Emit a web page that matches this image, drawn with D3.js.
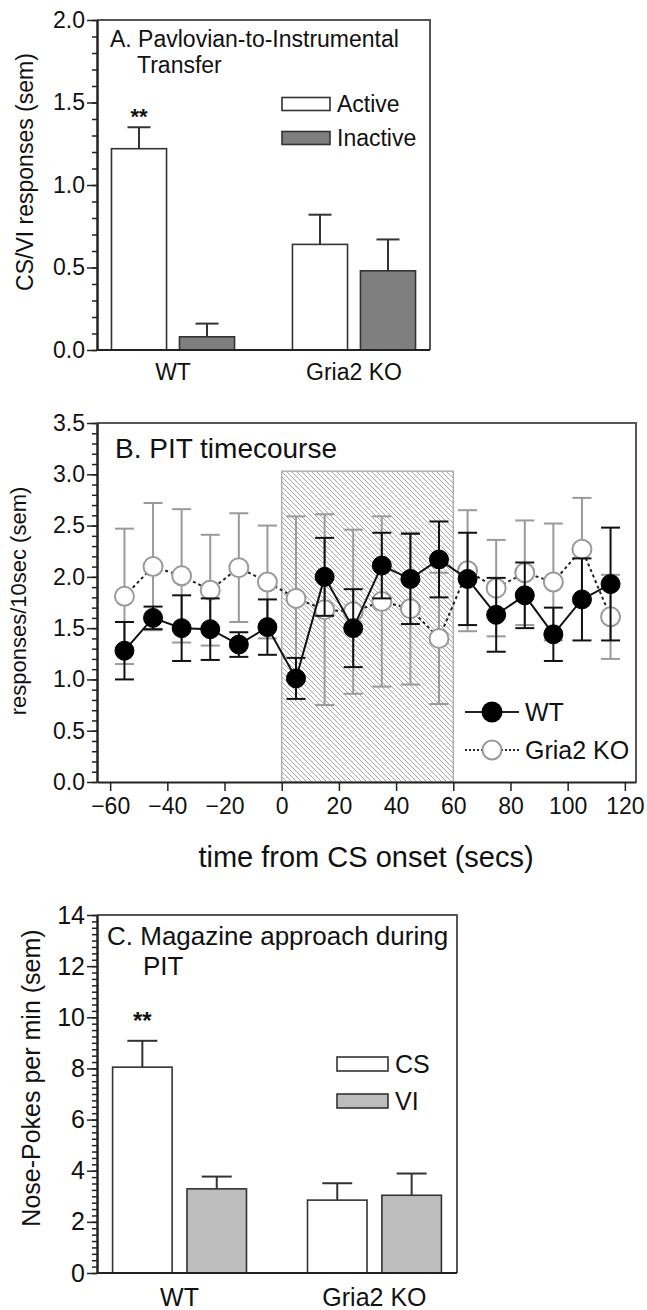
<!DOCTYPE html>
<html>
<head>
<meta charset="utf-8">
<script src="https://cdn.jsdelivr.net/npm/d3@7"></script>
<style>
  body { margin: 0; background: #fff; }
  text { font-family: "Liberation Sans", Arial, sans-serif; fill: #111; }
</style>
</head>
<body>
<svg id="fig" width="647" height="1310"></svg>
<script>
// ---- data ----
const groups = ["WT", "Gria2 KO"];

// panel A : Pavlovian-to-instrumental transfer
const ptSeries = ["Active", "Inactive"];
const ptActive = [1.22, 0.64];
const ptActiveSem = [0.13, 0.18];
const ptInactive = [0.08, 0.48];
const ptInactiveSem = [0.08, 0.19];
const ptTicks = [0, 0.5, 1.0, 1.5, 2.0];

// panel B : PIT timecourse (10 sec bins)
const times = [-55, -45, -35, -25, -15, -5, 5, 15, 25, 35, 45, 55, 65, 75, 85, 95, 105, 115];
const wtMean = [1.28, 1.60, 1.50, 1.49, 1.34, 1.51, 1.01, 2.00, 1.50, 2.11, 1.98, 2.17, 1.98, 1.63, 1.82, 1.44, 1.78, 1.93];
const wtSem  = [0.28, 0.11, 0.32, 0.30, 0.12, 0.27, 0.20, 0.38, 0.38, 0.32, 0.44, 0.37, 0.45, 0.36, 0.32, 0.26, 0.40, 0.55];
const koMean = [1.81, 2.10, 2.01, 1.87, 2.09, 1.95, 1.79, 1.68, 1.66, 1.76, 1.69, 1.40, 2.06, 1.89, 2.04, 1.95, 2.27, 1.61];
const koSem  = [0.66, 0.62, 0.65, 0.54, 0.53, 0.55, 0.80, 0.93, 0.80, 0.83, 0.74, 0.64, 0.59, 0.47, 0.51, 0.57, 0.50, 0.41];
const csWindow = [0, 60];
const csWindowTop = 3.03;
const tcXTicks = [-60, -40, -20, 0, 20, 40, 60, 80, 100, 120];
const tcYTicks = [0, 0.5, 1.0, 1.5, 2.0, 2.5, 3.0, 3.5];

// panel C : magazine approach during PIT
const magSeries = ["CS", "VI"];
const magCS = [8.05, 2.85];
const magCSSem = [1.03, 0.66];
const magVI = [3.29, 3.04];
const magVISem = [0.48, 0.85];
const magTicks = [0, 2, 4, 6, 8, 10, 12, 14];

const svg = d3.select("#fig");
const FONT = '"Liberation Sans", Arial, sans-serif';

function minorTicks(max, step) {
  return d3.range(0, max + step / 2, step);
}

function styleAxis(g) {
  g.selectAll(".domain").attr("stroke", "#222").attr("stroke-width", 2);
  g.selectAll(".tick line").attr("stroke", "#222").attr("stroke-width", 1.5);
}

// generic grouped bar panel (A and C)
function barPanel(o) {
  const x0 = d3.scaleBand().domain(groups).range([o.left, o.right])
    .paddingInner(o.padIn).paddingOuter(o.padOut);
  const x1 = d3.scaleBand().domain(o.series).range([0, x0.bandwidth()]).paddingInner(o.barGap);
  const y = d3.scaleLinear().domain([0, o.yMax]).range([o.bottom, o.top]);

  const g = svg.append("g");

  // frame top / right
  g.append("path")
    .attr("d", `M${o.left},${o.top}H${o.right}V${o.bottom}`)
    .attr("fill", "none").attr("stroke", "#555").attr("stroke-width", 2);

  const rows = [];
  groups.forEach((grp, i) => {
    o.series.forEach((s, j) => {
      rows.push({grp: grp, s: s, v: o.values[j][i], e: o.sems[j][i], fill: o.fills[j]});
    });
  });

  // error bars (only upward)
  const eb = g.selectAll(".eb").data(rows).enter().append("g");
  eb.append("line")
    .attr("x1", d => x0(d.grp) + x1(d.s) + x1.bandwidth() / 2)
    .attr("x2", d => x0(d.grp) + x1(d.s) + x1.bandwidth() / 2)
    .attr("y1", d => y(d.v)).attr("y2", d => y(d.v + d.e))
    .attr("stroke", "#333").attr("stroke-width", 2);
  eb.append("line")
    .attr("x1", d => x0(d.grp) + x1(d.s) + x1.bandwidth() / 2 - o.capW / 2)
    .attr("x2", d => x0(d.grp) + x1(d.s) + x1.bandwidth() / 2 + o.capW / 2)
    .attr("y1", d => y(d.v + d.e)).attr("y2", d => y(d.v + d.e))
    .attr("stroke", "#333").attr("stroke-width", 2);

  g.selectAll(".bar").data(rows).enter().append("rect")
    .attr("x", d => x0(d.grp) + x1(d.s))
    .attr("width", x1.bandwidth())
    .attr("y", d => y(d.v))
    .attr("height", d => y(0) - y(d.v))
    .attr("fill", d => d.fill)
    .attr("stroke", "#333").attr("stroke-width", 1.6);

  // significance stars over WT first series
  g.append("text")
    .attr("x", x0(groups[0]) + x1(o.series[0]) + x1.bandwidth() / 2)
    .attr("y", o.starY)
    .attr("text-anchor", "middle")
    .style("font-size", o.starSize + "px").style("font-weight", "bold")
    .text("**");

  // axes
  const yAx = g.append("g").attr("transform", `translate(${o.left},0)`)
    .call(d3.axisLeft(y).tickValues(o.ticks).tickFormat(o.fmt).tickSize(10).tickSizeOuter(0).tickPadding(2));
  yAx.selectAll("text").style("font-size", o.tickFont + "px").style("font-family", FONT);
  styleAxis(yAx);
  const yMin = g.append("g").attr("transform", `translate(${o.left},0)`)
    .call(d3.axisLeft(y).tickValues(minorTicks(o.yMax, o.minor)).tickFormat("").tickSize(5).tickSizeOuter(0));
  styleAxis(yMin);

  g.append("line")
    .attr("x1", o.left).attr("x2", o.right).attr("y1", y(0)).attr("y2", y(0))
    .attr("stroke", "#222").attr("stroke-width", 2);

  g.selectAll(".glab").data(groups).enter().append("text")
    .attr("x", d => x0(d) + x0.bandwidth() / 2)
    .attr("y", o.groupLabY)
    .attr("text-anchor", "middle")
    .style("font-size", o.tickFont + "px")
    .text(d => d);

  // y label
  g.append("text")
    .attr("transform", `translate(${o.yLabX},${o.yLabY}) rotate(-90)`)
    .attr("text-anchor", "middle")
    .style("font-size", o.yLabFont + "px")
    .text(o.yLabel);

  // title (two lines)
  g.append("text").attr("x", o.titleX).attr("y", o.titleY)
    .style("font-size", o.titleFont + "px").text(o.title[0]);
  g.append("text").attr("x", o.titleX2).attr("y", o.titleY2)
    .style("font-size", o.titleFont + "px").text(o.title[1]);

  // legend
  o.series.forEach((s, j) => {
    const ly = o.legY + j * o.legStep;
    g.append("rect")
      .attr("x", o.legX).attr("y", ly - o.legH / 2)
      .attr("width", o.legW).attr("height", o.legH)
      .attr("fill", o.fills[j]).attr("stroke", "#333").attr("stroke-width", 1.6);
    g.append("text")
      .attr("x", o.legX + o.legW + 7).attr("y", ly).attr("dy", "0.36em")
      .style("font-size", o.legFont + "px").text(s);
  });
}

// ---------- Panel A ----------
barPanel({
  left: 97, right: 430, top: 20, bottom: 350,
  padIn: 0.32, padOut: 0.08, barGap: 0.19,
  yMax: 2, ticks: ptTicks, minor: 0.1, fmt: d3.format(".1f"),
  series: ptSeries, values: [ptActive, ptInactive], sems: [ptActiveSem, ptInactiveSem],
  fills: ["#ffffff", "#7f7f7f"], capW: 23,
  starY: 124, starSize: 22,
  tickFont: 23, groupLabY: 380,
  yLabel: "CS/VI responses (sem)", yLabX: 33, yLabY: 172, yLabFont: 23,
  title: ["A. Pavlovian-to-Instrumental", "Transfer"], titleFont: 23,
  titleX: 110, titleY: 47, titleX2: 137, titleY2: 73,
  legX: 282, legY: 104, legStep: 34, legW: 48, legH: 13, legFont: 23
});

// ---------- Panel B ----------
const bx = d3.scaleLinear().domain([-64.6, 123.9]).range([97, 636]);
const by = d3.scaleLinear().domain([0, 3.5]).range([782, 423]);
const gB = svg.append("g");

const defs = svg.append("defs");
const pat = defs.append("pattern").attr("id", "hatch")
  .attr("patternUnits", "userSpaceOnUse").attr("width", 5).attr("height", 5);
pat.append("rect").attr("width", 5).attr("height", 5).attr("fill", "#fff");
pat.append("path").attr("d", "M0,0L5,5M-1,4L1,6M4,-1L6,1")
  .attr("stroke", "#9a9a9a").attr("stroke-width", 0.9);

gB.append("rect")
  .attr("x", bx(csWindow[0])).attr("width", bx(csWindow[1]) - bx(csWindow[0]))
  .attr("y", by(csWindowTop)).attr("height", by(0) - by(csWindowTop))
  .attr("fill", "url(#hatch)").attr("stroke", "#b0b0b0").attr("stroke-width", 1.5);

gB.append("path")
  .attr("d", `M97,${by(3.5)}H636V${by(0)}`)
  .attr("fill", "none").attr("stroke", "#555").attr("stroke-width", 2);

const koData = times.map((t, i) => ({t: t, m: koMean[i], e: koSem[i]}));
const wtData = times.map((t, i) => ({t: t, m: wtMean[i], e: wtSem[i]}));
const capB = 9.5;

function errorBars(data, color) {
  const e = gB.append("g");
  e.selectAll(".v").data(data).enter().append("line")
    .attr("x1", d => bx(d.t)).attr("x2", d => bx(d.t))
    .attr("y1", d => by(d.m - d.e)).attr("y2", d => by(d.m + d.e))
    .attr("stroke", color).attr("stroke-width", 2);
  [-1, 1].forEach(sgn => {
    e.selectAll(".c" + sgn).data(data).enter().append("line")
      .attr("x1", d => bx(d.t) - capB).attr("x2", d => bx(d.t) + capB)
      .attr("y1", d => by(d.m + sgn * d.e)).attr("y2", d => by(d.m + sgn * d.e))
      .attr("stroke", color).attr("stroke-width", 2);
  });
}

const line = d3.line().x(d => bx(d.t)).y(d => by(d.m));

// KO (open grey, dashed)
errorBars(koData, "#9a9a9a");
gB.append("path").datum(koData).attr("d", line)
  .attr("fill", "none").attr("stroke", "#222").attr("stroke-width", 2).attr("stroke-dasharray", "3,3");
gB.selectAll(".ko").data(koData).enter().append("circle")
  .attr("cx", d => bx(d.t)).attr("cy", d => by(d.m)).attr("r", 9.5)
  .attr("fill", "#fff").attr("stroke", "#9a9a9a").attr("stroke-width", 2);

// WT (filled black, solid)
errorBars(wtData, "#111");
gB.append("path").datum(wtData).attr("d", line)
  .attr("fill", "none").attr("stroke", "#111").attr("stroke-width", 2);
gB.selectAll(".wt").data(wtData).enter().append("circle")
  .attr("cx", d => bx(d.t)).attr("cy", d => by(d.m)).attr("r", 9.5)
  .attr("fill", "#000").attr("stroke", "#000").attr("stroke-width", 1);

// axes
const bxAx = gB.append("g").attr("transform", `translate(0,${by(0)})`)
  .call(d3.axisBottom(bx).tickValues(tcXTicks).tickSize(9).tickSizeOuter(0).tickPadding(7));
bxAx.selectAll("text").style("font-size", "23px").style("font-family", FONT);
styleAxis(bxAx);
const byAx = gB.append("g").attr("transform", "translate(97,0)")
  .call(d3.axisLeft(by).tickValues(tcYTicks).tickFormat(d3.format(".1f")).tickSize(10).tickSizeOuter(0).tickPadding(2));
byAx.selectAll("text").style("font-size", "23px").style("font-family", FONT);
styleAxis(byAx);
const byMin = gB.append("g").attr("transform", "translate(97,0)")
  .call(d3.axisLeft(by).tickValues(minorTicks(3.5, 0.1)).tickFormat("").tickSize(5).tickSizeOuter(0));
styleAxis(byMin);

gB.append("text").attr("x", 115).attr("y", 458).style("font-size", "28px").text("B. PIT timecourse");
gB.append("text").attr("x", 366).attr("y", 867).attr("text-anchor", "middle")
  .style("font-size", "29px").text("time from CS onset (secs)");
gB.append("text").attr("transform", "translate(26,601) rotate(-90)").attr("text-anchor", "middle")
  .style("font-size", "22px").text("responses/10sec (sem)");

// legend B
const legB = [
  {name: "WT", y: 712, fill: "#000", stroke: "#000", dash: null},
  {name: "Gria2 KO", y: 750, fill: "#fff", stroke: "#9a9a9a", dash: "2,2"}
];
legB.forEach(l => {
  gB.append("line").attr("x1", 465).attr("x2", 519).attr("y1", l.y).attr("y2", l.y)
    .attr("stroke", "#222").attr("stroke-width", 2).attr("stroke-dasharray", l.dash);
  gB.append("circle").attr("cx", 492).attr("cy", l.y).attr("r", 9.5)
    .attr("fill", l.fill).attr("stroke", l.stroke).attr("stroke-width", 2);
  gB.append("text").attr("x", 525).attr("y", l.y).attr("dy", "0.36em")
    .style("font-size", "25px").text(l.name);
});

// ---------- Panel C ----------
barPanel({
  left: 97, right: 457, top: 915, bottom: 1273,
  padIn: 0.313, padOut: 0.08, barGap: 0.2,
  yMax: 14, ticks: magTicks, minor: 0.25, fmt: d3.format("d"),
  series: magSeries, values: [magCS, magVI], sems: [magCSSem, magVISem],
  fills: ["#ffffff", "#bdbdbd"], capW: 30,
  starY: 1029, starSize: 24,
  tickFont: 25, groupLabY: 1306,
  yLabel: "Nose-Pokes per min (sem)", yLabX: 40, yLabY: 1078, yLabFont: 25,
  title: ["C. Magazine approach during", "PIT"], titleFont: 26,
  titleX: 107, titleY: 945, titleX2: 143, titleY2: 975,
  legX: 337, legY: 1064, legStep: 37, legW: 51, legH: 14, legFont: 25
});
</script>
</body>
</html>
